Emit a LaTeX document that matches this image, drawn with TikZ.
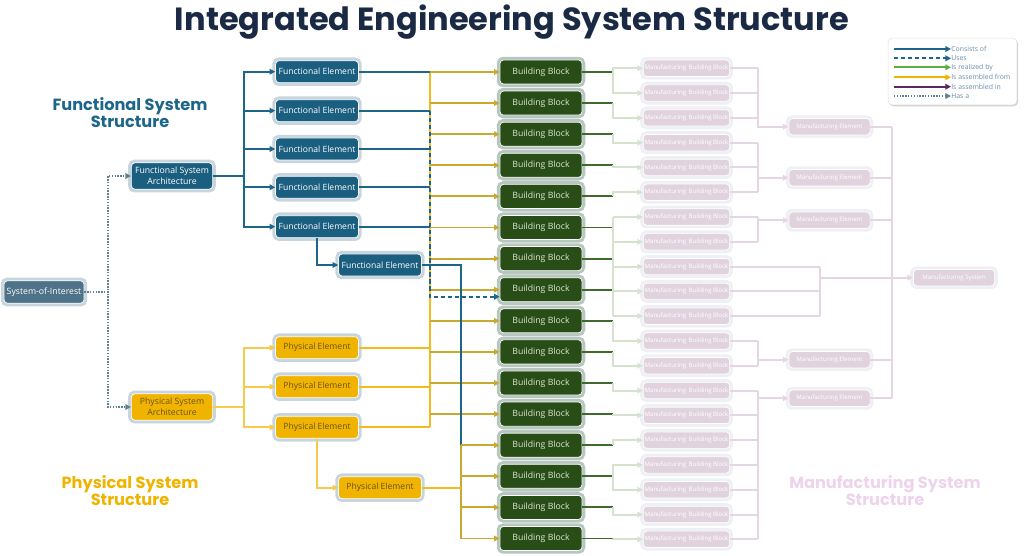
\documentclass[tikz,border=0pt]{standalone}
\usepackage{fontspec}
\setmainfont{Open Sans}
\newfontfamily\headfont{Poppins}
\usetikzlibrary{arrows.meta,shadows}

\definecolor{titleblue}{HTML}{1B2A44}
\definecolor{funcblue}{HTML}{1B5F80}
\definecolor{lineblue}{HTML}{1E6689}
\definecolor{soigrey}{HTML}{4E7287}
\definecolor{hasagrey}{HTML}{5F8194}
\definecolor{bluehalo}{HTML}{C8D5DD}
\definecolor{physgold}{HTML}{F0B400}
\definecolor{goldline}{HTML}{F2BC1E}
\definecolor{goldlite}{HTML}{F6CA4A}
\definecolor{olivegold}{HTML}{C7AA2F}
\definecolor{goldtext}{HTML}{6A5410}
\definecolor{blockgreen}{HTML}{284D17}
\definecolor{blocktext}{HTML}{DDE6D4}
\definecolor{greenhalo}{HTML}{B7C6BF}
\definecolor{greenline}{HTML}{3E6B2B}
\definecolor{palegreen}{HTML}{D5E2CD}
\definecolor{mfgfill}{HTML}{E1D3DE}
\definecolor{mfghalo}{HTML}{EEF0F3}
\definecolor{mfgline}{HTML}{E6D6E3}
\definecolor{mfglabel}{HTML}{EDD4EC}
\definecolor{realgreen}{HTML}{5DAE3F}
\definecolor{assmpurple}{HTML}{5A2A5C}
\definecolor{legtextc}{HTML}{6B8FAC}

\tikzset{
  haloed/.style={rounded corners=2.5pt, draw=white, line width=0.5pt, inner sep=1pt, align=center,
    preaction={draw=#1, line width=4.6pt}},
  soibox/.style={haloed=bluehalo, fill=soigrey, text=white, minimum width=2cm, minimum height=0.56cm,
    font=\fontsize{6.2}{7}\selectfont},
  archbox/.style={haloed=bluehalo, minimum width=2.03cm, minimum height=0.66cm, font=\fontsize{6.2}{7.8}\selectfont},
  elembox/.style={haloed=bluehalo, minimum width=2.07cm, minimum height=0.55cm, font=\fontsize{6.1}{7}\selectfont},
  funcfill/.style={fill=funcblue, text=white},
  physfill/.style={fill=physgold, text=goldtext},
  blockbox/.style={haloed=greenhalo, fill=blockgreen, text=blocktext, minimum width=2.05cm, minimum height=0.6cm,
    font=\fontsize{6.2}{7}\selectfont},
  mfgbox/.style={haloed=mfghalo, fill=mfgfill, text=white, minimum width=2.03cm, minimum height=0.41cm,
    font=\fontsize{4.3}{5}\selectfont},
  grouplabel/.style={align=center, font=\headfont\bfseries\fontsize{11.5}{12}\selectfont},
  legtext/.style={anchor=west, inner sep=0pt, text=legtextc, font=\fontsize{4.9}{5.5}\selectfont},
  tip/.style={-{Triangle[length=4pt,width=4pt]}},
  hasa/.style={draw=hasagrey, line width=1.4pt, dash pattern=on 1pt off 1pt},
  consists/.style={draw=lineblue, line width=1.4pt},
  uses/.style={draw=lineblue, line width=1.4pt, dash pattern=on 3pt off 2pt},
  assyfrom/.style={draw=goldline, line width=1.4pt},
  assylite/.style={draw=goldlite, line width=1.4pt},
  realize/.style={draw=olivegold, line width=1.4pt},
  blockout/.style={draw=greenline, line width=1.4pt},
  paleout/.style={draw=palegreen, line width=1.4pt},
  mfgout/.style={draw=mfgline, line width=1.4pt}
}

\begin{document}
\begin{tikzpicture}[x=0.025cm,y=-0.025cm]
\useasboundingbox (0,0) rectangle (1024,556);

% titles
\node[text=titleblue, font=\headfont\bfseries\fontsize{22.8}{26}\selectfont] (title) at (512,22)
  {Integrated Engineering System Structure};
\node[grouplabel, text=lineblue] (funclabel) at (130,113) {Functional System\\Structure};
\node[grouplabel, text=physgold] (physlabel) at (130,491) {Physical System\\Structure};
\node[grouplabel, text=mfglabel] (mfglabel) at (885,491) {Manufacturing System\\Structure};

% system structure
\node[soibox] (soi) at (44,292) {System-of-Interest};
\node[archbox, funcfill] (fsa) at (172,176) {Functional System\\Architecture};
\node[archbox, physfill] (psa) at (172,407) {Physical System\\Architecture};

\foreach \i/\y in {1/71.7, 2/110.7, 3/149, 4/187.3, 5/226.7}
  \node[elembox, funcfill] (fe\i) at (317,\y) {Functional Element};
\node[elembox, funcfill] (fe6) at (380,265) {Functional Element};
\foreach \i/\y in {1/347.7, 2/386.7, 3/427.3}
  \node[elembox, physfill] (pe\i) at (317,\y) {Physical Element};
\node[elembox, physfill] (pe4) at (380,487.7) {Physical Element};

\foreach \i in {1,...,16}
  \node[blockbox] (bb\i) at (541,{72+31.1*(\i-1)}) {Building Block};
\foreach \j in {1,...,20}
  \node[mfgbox] (mb\j) at (686.5,{68.3+24.79*(\j-1)}) {Manufacturing\, Building Block};
\foreach \k/\y in {1/126.7, 2/177.7, 3/220.3, 4/359.7, 5/398.3}
  \node[mfgbox] (me\k) at (829.5,\y) {Manufacturing Element};
\node[mfgbox] (ms) at (954,277.7) {Manufacturing System};

% bus lines
\coordinate (hbus) at (108,0);
\coordinate (fbus) at (244,0);
\coordinate (gbus) at (430,0);
\coordinate (lbus) at (461,0);
\coordinate (mbus) at (613,0);
\coordinate (abus) at (758,0);
\coordinate (sbus) at (820,0);
\coordinate (ebus) at (892,0);

% has a
\draw[hasa, tip] (soi.east) -- (soi.east -| hbus) |- (fsa.west);
\draw[hasa, tip] (soi.east) -- (soi.east -| hbus) |- (psa.west);

% consists of
\foreach \i in {1,...,5}
  \draw[consists, tip] (fsa.east) -- (fsa.east -| fbus) |- (fe\i.west);
\draw[consists, tip] (fe5.south) |- (fe6.west);
\foreach \i in {1,2,3}
  \draw[assylite, tip] (psa.east) -- (psa.east -| fbus) |- (pe\i.west);
\draw[assylite, tip] (pe3.south) |- (pe4.west);

% to building blocks
\draw[assyfrom] (fe1.east -| gbus) -- (pe3.east -| gbus);
\foreach \i in {1,...,5}
  \draw[consists] (fe\i.east) -- (fe\i.east -| gbus);
\foreach \i in {1,2,3}
  \draw[assyfrom] (pe\i.east) -- (pe\i.east -| gbus);
\foreach \i in {1,...,12}
  \draw[realize, tip] (bb\i.west -| gbus) -- (bb\i.west);
\coordinate (bb8in) at ([yshift=-5pt]bb8.west);
\draw[uses, tip] (fe2.east -| gbus) |- (bb8in);
\draw[realize] (bb13.west -| lbus) -- (bb16.west -| lbus);
\draw[consists] (fe6.east) -| (bb13.west -| lbus);
\draw[assyfrom] (pe4.east) -- (pe4.east -| lbus);
\foreach \i in {13,...,16}
  \draw[realize, tip] (bb\i.west -| lbus) -- (bb\i.west);

% building blocks to manufacturing building blocks
\foreach \i in {1,...,16}
  \draw[blockout] (bb\i.east) -- (bb\i.east -| mbus);
\foreach \i/\j in {1/1, 1/2, 2/3, 3/4, 4/5, 5/6, 9/12, 10/13, 11/14, 12/15, 13/16, 14/17, 14/18, 15/19, 16/20}
  \draw[paleout, tip] (bb\i.east -| mbus) |- (mb\j.west);
\draw[paleout] (mb7.west -| mbus) -- (mb11.west -| mbus);
\foreach \j in {7,...,11}
  \draw[paleout, tip] (mb\j.west -| mbus) -- (mb\j.west);

% manufacturing assembly
\foreach \j in {1,...,8,12,13,...,20}
  \draw[mfgout] (mb\j.east) -- (mb\j.east -| abus);
\draw[mfgout, tip] (mb1.east -| abus) |- (me1.west);
\draw[mfgout] (mb4.east -| abus) -- (mb6.east -| abus);
\draw[mfgout] (mb7.east -| abus) -- (mb8.east -| abus);
\draw[mfgout] (mb12.east -| abus) -- (mb13.east -| abus);
\draw[mfgout] (mb14.east -| abus) -- (mb20.east -| abus);
\foreach \k in {2,...,5}
  \draw[mfgout, tip] (me\k.west -| abus) -- (me\k.west);
\foreach \j in {9,10,11}
  \draw[mfgout] (mb\j.east) -- (mb\j.east -| sbus);
\draw[mfgout] (mb9.east -| sbus) -- (mb11.east -| sbus);
\foreach \k in {1,...,5}
  \draw[mfgout] (me\k.east) -- (me\k.east -| ebus);
\draw[mfgout] (me1.east -| ebus) -- (me5.east -| ebus);
\draw[mfgout, tip] (ms.west -| sbus) -- (ms.west);

% legend
\node[draw=black!12, fill=white, rounded corners=3pt, minimum width=3.22cm, minimum height=1.67cm,
  drop shadow={shadow xshift=0.8pt, shadow yshift=-1pt, opacity=0.35}] (legend) at (952.5,71.5) {};
\coordinate (legl) at (894,0);
\node[legtext] (lg1) at (951,49) {Consists of};
\node[legtext] (lg2) at (951,58.3) {Uses};
\node[legtext] (lg3) at (951,67.3) {Is realized by};
\node[legtext] (lg4) at (951,77.3) {Is assembled from};
\node[legtext] (lg5) at (951,86.7) {Is assembled in};
\node[legtext] (lg6) at (951,96) {Has a};
\draw[consists, tip] (lg1.west -| legl) -- (lg1.west);
\draw[uses, tip] (lg2.west -| legl) -- (lg2.west);
\draw[draw=realgreen, line width=1.4pt, tip] (lg3.west -| legl) -- (lg3.west);
\draw[draw=physgold, line width=1.4pt, tip] (lg4.west -| legl) -- (lg4.west);
\draw[draw=assmpurple, line width=1.4pt, tip] (lg5.west -| legl) -- (lg5.west);
\draw[hasa, tip] (lg6.west -| legl) -- (lg6.west);
\end{tikzpicture}
\end{document}
